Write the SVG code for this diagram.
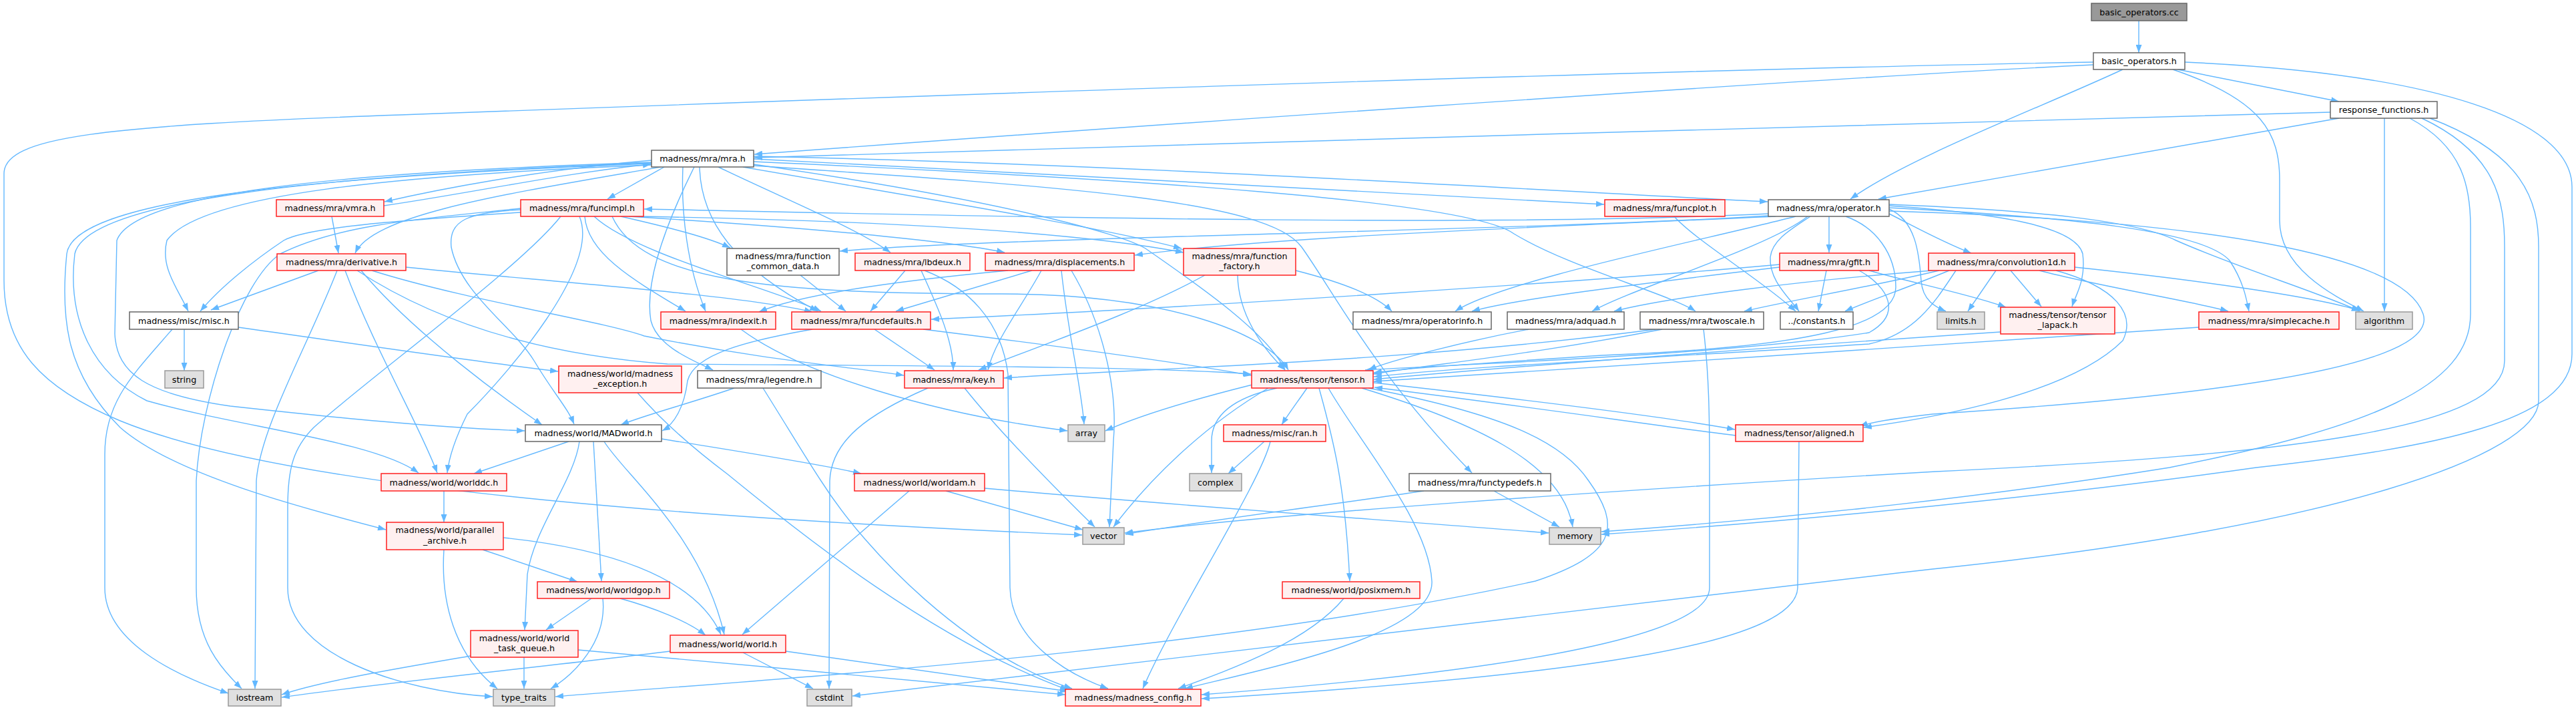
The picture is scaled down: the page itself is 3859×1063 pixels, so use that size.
<svg xmlns="http://www.w3.org/2000/svg" width="3859" height="1063" viewBox="0 0 3859 1063">
<defs>
<marker id="ah" viewBox="0 0 12 9" markerWidth="12" markerHeight="9" refX="12" refY="4.5" orient="auto" markerUnits="userSpaceOnUse"><path d="M0,0L12,4.5L0,9z" fill="#63b8ff"/></marker>
</defs>
<style>
.e{fill:none;stroke:#63b8ff;stroke-width:1.4;marker-end:url(#ah)}
rect{stroke-width:1.5}
.nw rect{fill:#ffffff;stroke:#666666}
.nr rect{fill:#fff0f0;stroke:#ff2020}
.ng rect{fill:#e0e0e0;stroke:#999999}
.nroot rect{fill:#999999;stroke:#666666}
text{font-family:"DejaVu Sans","Liberation Sans",sans-serif;font-size:12.7px;text-anchor:middle;fill:#000000}
</style>
<rect x="0" y="0" width="3859" height="1063" fill="#ffffff" stroke="none"/>
<g id="edges">
<path class="e" d="M3204,31 L3204,79"/>
<path class="e" d="M3136,97 C2700,118 1600,196 1130,231"/>
<path class="e" d="M3136,93 C2400,106 1200,150 600,172 C150,188 6,205 6,260 L6,420 C6,520 60,580 180,630 C400,720 900,770 1621,801"/>
<path class="e" d="M3180,104 C3060,160 2860,235 2772,298"/>
<path class="e" d="M3262,104 L3504,152"/>
<path class="e" d="M3255,104 C3390,150 3415,200 3415,270 L3415,330 C3415,400 3490,440 3541,466"/>
<path class="e" d="M3273,93 C3650,110 3853,180 3853,280 L3853,530 C3853,630 3650,670 3380,700 C3100,740 2700,780 2399,800"/>
<path class="e" d="M3491,168 C3000,180 1600,222 1130,236"/>
<path class="e" d="M3504,177 L2814,298"/>
<path class="e" d="M3572,177 L3572,466"/>
<path class="e" d="M3610,177 C3690,220 3701,280 3701,340 L3701,470 C3701,580 3550,640 3250,700 C3000,740 2700,775 2399,796"/>
<path class="e" d="M3628,177 C3740,230 3752,300 3752,370 L3752,540 C3752,640 3450,680 2900,706 C2400,735 1900,770 1685,798"/>
<path class="e" d="M3640,177 C3780,230 3803,300 3803,370 L3803,600 C3803,680 3500,790 2895,852 C2300,920 1700,990 1277,1042"/>
<path class="e" d="M976,240 C800,255 650,285 576,302"/>
<path class="e" d="M575,308 C700,290 850,258 975,246"/>
<path class="e" d="M995,250 L910,298"/>
<path class="e" d="M1129,238 C1600,262 2100,290 2403,306"/>
<path class="e" d="M1129,234 C1700,246 2300,285 2648,302"/>
<path class="e" d="M990,250 C760,290 560,320 532,379"/>
<path class="e" d="M976,247 C600,262 300,290 250,360 C240,400 265,430 282,466"/>
<path class="e" d="M1023,250 C1020,320 1030,400 1057,466"/>
<path class="e" d="M1048,250 C1050,330 1100,400 1225,466"/>
<path class="e" d="M1076,250 C1180,300 1280,340 1334,378"/>
<path class="e" d="M1113,250 C1400,300 1650,340 1770,372"/>
<path class="e" d="M1129,246 C1500,300 1680,350 1716,372 C1800,430 1900,500 1925,554"/>
<path class="e" d="M1040,250 C1000,330 965,420 975,480 C985,520 1040,540 1068,554"/>
<path class="e" d="M1129,242 C1700,268 2200,300 2268,350 C2350,400 2500,440 2540,466"/>
<path class="e" d="M976,243 C500,258 200,290 175,360 L172,500 C175,560 220,590 345,608 C500,625 650,640 786,645"/>
<path class="e" d="M976,245 C450,265 110,300 100,380 C90,480 100,560 180,640 C260,710 450,760 578,793"/>
<path class="e" d="M976,244 C480,262 130,300 112,380 C100,480 140,560 220,600 C360,640 560,660 627,708"/>
<path class="e" d="M1129,248 C1600,280 1900,300 1950,370 C2000,440 2060,560 2205,708"/>
<path class="e" d="M497,324 L507,379"/>
<path class="e" d="M780,318 C600,330 460,340 425,360 C380,390 330,430 300,466"/>
<path class="e" d="M780,312 C600,330 500,340 420,380 C360,420 300,600 294,720 L294,880 C294,960 330,1000 362,1031"/>
<path class="e" d="M840,324 C780,400 560,560 470,640 C440,670 431,700 431,760 L431,880 C431,980 600,1035 738,1043"/>
<path class="e" d="M780,314 C700,318 672,330 676,370 C690,440 770,490 800,540 C830,590 850,610 860,635"/>
<path class="e" d="M868,324 C900,400 760,560 700,620 C680,660 672,690 670,708"/>
<path class="e" d="M876,324 C880,380 950,420 1027,466"/>
<path class="e" d="M890,324 C950,380 1150,430 1230,466"/>
<path class="e" d="M917,324 C960,420 1150,440 1500,440 C1750,440 1900,500 1930,554"/>
<path class="e" d="M930,324 C1000,340 1060,355 1094,371"/>
<path class="e" d="M955,324 C1300,330 1600,345 1773,378"/>
<path class="e" d="M942,324 C1200,340 1420,360 1505,378"/>
<path class="e" d="M2649,320 C2200,342 1400,322 965,313"/>
<path class="e" d="M2649,323 C2300,345 1500,355 1258,376"/>
<path class="e" d="M2660,324 C2300,340 1900,355 1700,382"/>
<path class="e" d="M2690,324 C2550,360 2250,420 2180,466"/>
<path class="e" d="M2708,324 C2650,370 2450,430 2385,466"/>
<path class="e" d="M2740,324 L2740,378"/>
<path class="e" d="M2712,324 C2680,345 2655,360 2652,385 C2650,420 2680,445 2695,466"/>
<path class="e" d="M2765,324 C2810,340 2840,380 2840,430 C2840,490 2700,520 2400,532 C2200,545 2100,552 2058,558"/>
<path class="e" d="M2830,320 C2870,340 2905,360 2953,379"/>
<path class="e" d="M2830,313 C2870,330 2875,380 2878,420 C2880,450 2900,460 2915,466"/>
<path class="e" d="M2830,308 C3000,320 3110,340 3120,380 C3125,420 3110,440 3104,459"/>
<path class="e" d="M2830,311 C3100,325 3300,345 3340,390 C3360,420 3365,445 3369,466"/>
<path class="e" d="M2830,306 C3050,315 3200,330 3260,360 C3350,400 3480,440 3535,466"/>
<path class="e" d="M2830,316 C3300,330 3600,380 3630,470 C3660,560 3200,600 2895,620 C2850,625 2810,630 2786,638"/>
<path class="e" d="M2508,324 C2540,360 2640,420 2690,466"/>
<path class="e" d="M477,405 L316,464"/>
<path class="e" d="M505,405 C460,520 390,640 384,720 L382,1031"/>
<path class="e" d="M517,405 C560,520 630,640 655,708"/>
<path class="e" d="M541,405 C620,500 760,600 812,636"/>
<path class="e" d="M557,405 C700,450 900,480 965,503 C1150,540 1280,550 1354,562"/>
<path class="e" d="M608,400 C800,420 1100,440 1217,467"/>
<path class="e" d="M535,405 C650,480 800,530 1000,545 C1400,548 1700,548 1874,560"/>
<path class="e" d="M1199,412 L1267,466"/>
<path class="e" d="M1356,405 L1304,466"/>
<path class="e" d="M1380,405 C1405,460 1428,510 1428,554"/>
<path class="e" d="M1385,405 C1450,430 1500,480 1510,560 L1513,880 C1515,960 1600,1010 1660,1031"/>
<path class="e" d="M1546,405 L1342,466"/>
<path class="e" d="M1560,405 C1530,460 1490,510 1480,554"/>
<path class="e" d="M1510,405 C1350,420 1200,440 1137,467"/>
<path class="e" d="M1590,405 C1600,500 1620,580 1624,635"/>
<path class="e" d="M1605,405 C1650,480 1675,580 1668,660 L1662,789"/>
<path class="e" d="M1805,412 C1700,470 1550,520 1466,554"/>
<path class="e" d="M1854,412 C1855,470 1890,520 1925,554"/>
<path class="e" d="M1941,405 C2000,420 2060,440 2085,466"/>
<path class="e" d="M2736,405 L2724,466"/>
<path class="e" d="M2785,405 C2830,430 2850,470 2800,498 C2600,530 2200,545 2045,554"/>
<path class="e" d="M2666,400 C2500,420 2280,445 2205,466"/>
<path class="e" d="M2666,396 C2400,420 1800,460 1395,478"/>
<path class="e" d="M2800,405 C2850,420 2950,440 3005,460"/>
<path class="e" d="M2895,405 C2700,420 2500,445 2418,466"/>
<path class="e" d="M2905,405 C2800,430 2680,450 2613,466"/>
<path class="e" d="M2920,405 C2860,430 2800,450 2764,466"/>
<path class="e" d="M2990,405 L2948,466"/>
<path class="e" d="M3012,405 L3058,459"/>
<path class="e" d="M3055,405 C3150,430 3280,450 3338,466"/>
<path class="e" d="M3108,400 C3300,420 3470,445 3535,465"/>
<path class="e" d="M3080,405 C3170,430 3200,470 3180,510 C3100,590 2900,625 2792,640"/>
<path class="e" d="M2930,405 C2900,450 2870,500 2800,515 C2500,535 2200,548 2058,564"/>
<path class="e" d="M276,493 L276,555"/>
<path class="e" d="M357,490 C500,510 700,540 836,556"/>
<path class="e" d="M258,493 C200,560 157,600 157,680 L157,880 C157,960 260,1010 342,1038"/>
<path class="e" d="M1110,493 C1200,560 1400,620 1599,645"/>
<path class="e" d="M1310,493 L1400,554"/>
<path class="e" d="M1383,493 C1600,520 1780,545 1875,562"/>
<path class="e" d="M1217,493 C1120,510 1040,530 1030,570 C1025,610 1010,635 992,645"/>
<path class="e" d="M2290,493 C2200,510 2080,540 2050,554"/>
<path class="e" d="M2490,493 C2300,530 2150,545 2057,560"/>
<path class="e" d="M2480,493 C2200,530 1900,545 1700,555 C1600,560 1540,563 1504,566"/>
<path class="e" d="M2552,493 C2560,560 2561,620 2561,700 L2561,880 C2561,960 2200,1010 1800,1040"/>
<path class="e" d="M2997,497 C2800,510 2300,545 2058,568"/>
<path class="e" d="M3294,490 C3000,510 2400,550 2058,571"/>
<path class="e" d="M955,588 C1000,640 1050,680 1090,710 C1200,800 1400,960 1600,1033"/>
<path class="e" d="M1100,581 C1030,605 970,620 930,636"/>
<path class="e" d="M1143,581 C1180,640 1210,690 1230,720 C1300,830 1450,980 1606,1031"/>
<path class="e" d="M1390,581 C1300,620 1245,660 1243,720 L1242,1031"/>
<path class="e" d="M1445,581 C1500,650 1590,740 1640,789"/>
<path class="e" d="M1958,581 C1945,600 1930,620 1920,636"/>
<path class="e" d="M1976,581 C1995,650 2015,720 2022,870"/>
<path class="e" d="M1990,581 C2035,660 2140,780 2145,870 C2150,950 1900,1000 1775,1031"/>
<path class="e" d="M2050,581 C2250,620 2340,660 2380,720 C2430,790 2420,830 2300,870 C1800,980 1100,1020 832,1043"/>
<path class="e" d="M2040,581 C2200,630 2340,690 2356,789"/>
<path class="e" d="M1900,581 C1800,640 1720,720 1668,789"/>
<path class="e" d="M1913,581 C1850,595 1815,620 1815,660 L1815,708"/>
<path class="e" d="M1876,576 C1780,600 1700,625 1656,645"/>
<path class="e" d="M2058,573 C2300,600 2500,625 2599,643"/>
<path class="e" d="M2600,652 C2500,640 2300,610 2059,580"/>
<path class="e" d="M1894,661 L1840,709"/>
<path class="e" d="M1903,661 C1890,720 1760,920 1712,1031"/>
<path class="e" d="M2695,661 L2693,880 C2690,960 2400,1010 1800,1046"/>
<path class="e" d="M852,661 L710,709"/>
<path class="e" d="M868,661 C860,720 800,790 790,860 L786,943"/>
<path class="e" d="M889,661 L901,870"/>
<path class="e" d="M905,661 C935,710 1050,800 1085,950"/>
<path class="e" d="M991,657 C1100,675 1230,695 1290,709"/>
<path class="e" d="M665,735 L665,782"/>
<path class="e" d="M723,823 L865,871"/>
<path class="e" d="M665,823 C660,900 680,980 745,1031"/>
<path class="e" d="M754,805 C900,820 1040,860 1080,950"/>
<path class="e" d="M886,896 L818,943"/>
<path class="e" d="M903,896 C910,960 860,1010 825,1031"/>
<path class="e" d="M929,896 C980,910 1030,930 1057,951"/>
<path class="e" d="M705,982 C600,1000 480,1020 422,1040"/>
<path class="e" d="M785,984 L785,1031"/>
<path class="e" d="M866,973 C1100,995 1400,1020 1596,1040"/>
<path class="e" d="M1004,975 C800,1000 550,1025 422,1044"/>
<path class="e" d="M1113,977 L1218,1031"/>
<path class="e" d="M1177,975 C1350,1000 1500,1020 1600,1035"/>
<path class="e" d="M1362,735 L1112,950"/>
<path class="e" d="M1417,735 L1622,793"/>
<path class="e" d="M1475,731 C1800,760 2100,780 2320,798"/>
<path class="e" d="M2133,735 C2000,755 1800,780 1686,800"/>
<path class="e" d="M2238,735 L2336,789"/>
<path class="e" d="M2013,896 C1960,960 1850,1000 1765,1031"/>
</g>
<g id="n_cc" class="nroot"><rect x="3133" y="5" width="143" height="26"/><text x="3204.5" y="22.5">basic_operators.cc</text></g>
<g id="n_boh" class="nw"><rect x="3136" y="79" width="137" height="25"/><text x="3204.5" y="96">basic_operators.h</text></g>
<g id="n_rf" class="nw"><rect x="3491" y="152" width="160" height="25"/><text x="3571" y="169">response_functions.h</text></g>
<g id="n_mra" class="nw"><rect x="976" y="225" width="153" height="25"/><text x="1052.5" y="242">madness/mra/mra.h</text></g>
<g id="n_vmra" class="nr"><rect x="414" y="299" width="161" height="25"/><text x="494.5" y="316">madness/mra/vmra.h</text></g>
<g id="n_funcimpl" class="nr"><rect x="780" y="299" width="184" height="25"/><text x="872" y="316">madness/mra/funcimpl.h</text></g>
<g id="n_funcplot" class="nr"><rect x="2404" y="299" width="180" height="25"/><text x="2494" y="316">madness/mra/funcplot.h</text></g>
<g id="n_operator" class="nw"><rect x="2649" y="299" width="181" height="25"/><text x="2739.5" y="316">madness/mra/operator.h</text></g>
<g id="n_deriv" class="nr"><rect x="415" y="380" width="193" height="25"/><text x="511.5" y="397">madness/mra/derivative.h</text></g>
<g id="n_fcd" class="nw"><rect x="1089" y="372" width="168" height="40"/><text x="1173" y="388">madness/mra/function</text><text x="1173" y="403">_common_data.h</text></g>
<g id="n_lbdeux" class="nr"><rect x="1281" y="379" width="172" height="26"/><text x="1367" y="396.5">madness/mra/lbdeux.h</text></g>
<g id="n_disp" class="nr"><rect x="1476" y="379" width="223" height="26"/><text x="1587.5" y="396.5">madness/mra/displacements.h</text></g>
<g id="n_ff" class="nr"><rect x="1773" y="372" width="168" height="40"/><text x="1857" y="388">madness/mra/function</text><text x="1857" y="403">_factory.h</text></g>
<g id="n_gfit" class="nr"><rect x="2666" y="379" width="148" height="26"/><text x="2740" y="396.5">madness/mra/gfit.h</text></g>
<g id="n_conv" class="nr"><rect x="2889" y="379" width="219" height="26"/><text x="2998.5" y="396.5">madness/mra/convolution1d.h</text></g>
<g id="n_misc" class="nw"><rect x="194" y="467" width="163" height="26"/><text x="275.5" y="484.5">madness/misc/misc.h</text></g>
<g id="n_indexit" class="nr"><rect x="990" y="467" width="172" height="26"/><text x="1076" y="484.5">madness/mra/indexit.h</text></g>
<g id="n_funcdef" class="nr"><rect x="1186" y="467" width="208" height="26"/><text x="1290" y="484.5">madness/mra/funcdefaults.h</text></g>
<g id="n_opinfo" class="nw"><rect x="2027" y="467" width="207" height="26"/><text x="2130.5" y="484.5">madness/mra/operatorinfo.h</text></g>
<g id="n_adquad" class="nw"><rect x="2258" y="467" width="175" height="26"/><text x="2345.5" y="484.5">madness/mra/adquad.h</text></g>
<g id="n_twoscale" class="nw"><rect x="2457" y="467" width="185" height="26"/><text x="2549.5" y="484.5">madness/mra/twoscale.h</text></g>
<g id="n_constants" class="nw"><rect x="2667" y="467" width="109" height="26"/><text x="2721.5" y="484.5">../constants.h</text></g>
<g id="n_limits" class="ng"><rect x="2902" y="467" width="71" height="26"/><text x="2937.5" y="484.5">limits.h</text></g>
<g id="n_lapack" class="nr"><rect x="2997" y="460" width="171" height="40"/><text x="3082.5" y="476">madness/tensor/tensor</text><text x="3082.5" y="491">_lapack.h</text></g>
<g id="n_simplecache" class="nr"><rect x="3294" y="467" width="210" height="26"/><text x="3399" y="484.5">madness/mra/simplecache.h</text></g>
<g id="n_algorithm" class="ng"><rect x="3529" y="467" width="85" height="26"/><text x="3571.5" y="484.5">algorithm</text></g>
<g id="n_string" class="ng"><rect x="247" y="555" width="58" height="26"/><text x="276" y="572.5">string</text></g>
<g id="n_madexc" class="nr"><rect x="837" y="548" width="184" height="40"/><text x="929" y="564">madness/world/madness</text><text x="929" y="579">_exception.h</text></g>
<g id="n_legendre" class="nw"><rect x="1045" y="555" width="185" height="26"/><text x="1137.5" y="572.5">madness/mra/legendre.h</text></g>
<g id="n_key" class="nr"><rect x="1355" y="555" width="148" height="26"/><text x="1429" y="572.5">madness/mra/key.h</text></g>
<g id="n_tensor" class="nr"><rect x="1875" y="555" width="182" height="26"/><text x="1966" y="572.5">madness/tensor/tensor.h</text></g>
<g id="n_MADworld" class="nw"><rect x="787" y="636" width="204" height="25"/><text x="889" y="653">madness/world/MADworld.h</text></g>
<g id="n_array" class="ng"><rect x="1600" y="636" width="55" height="25"/><text x="1627.5" y="653">array</text></g>
<g id="n_ran" class="nr"><rect x="1833" y="636" width="153" height="25"/><text x="1909.5" y="653">madness/misc/ran.h</text></g>
<g id="n_aligned" class="nr"><rect x="2600" y="636" width="191" height="25"/><text x="2695.5" y="653">madness/tensor/aligned.h</text></g>
<g id="n_worlddc" class="nr"><rect x="571" y="709" width="188" height="26"/><text x="665" y="726.5">madness/world/worlddc.h</text></g>
<g id="n_worldam" class="nr"><rect x="1280" y="709" width="195" height="26"/><text x="1377.5" y="726.5">madness/world/worldam.h</text></g>
<g id="n_complex" class="ng"><rect x="1782" y="709" width="78" height="26"/><text x="1821" y="726.5">complex</text></g>
<g id="n_functypedefs" class="nw"><rect x="2111" y="709" width="212" height="26"/><text x="2217" y="726.5">madness/mra/functypedefs.h</text></g>
<g id="n_parallel" class="nr"><rect x="579" y="782" width="175" height="41"/><text x="666.5" y="798">madness/world/parallel</text><text x="666.5" y="814">_archive.h</text></g>
<g id="n_vector" class="ng"><rect x="1622" y="790" width="62" height="25"/><text x="1653" y="807">vector</text></g>
<g id="n_memory" class="ng"><rect x="2321" y="790" width="77" height="25"/><text x="2359.5" y="807">memory</text></g>
<g id="n_worldgop" class="nr"><rect x="805" y="871" width="198" height="25"/><text x="904" y="888">madness/world/worldgop.h</text></g>
<g id="n_posixmem" class="nr"><rect x="1921" y="871" width="206" height="25"/><text x="2024" y="888">madness/world/posixmem.h</text></g>
<g id="n_wtq" class="nr"><rect x="705" y="944" width="161" height="40"/><text x="785.5" y="960">madness/world/world</text><text x="785.5" y="975">_task_queue.h</text></g>
<g id="n_world" class="nr"><rect x="1004" y="951" width="173" height="26"/><text x="1090.5" y="968.5">madness/world/world.h</text></g>
<g id="n_iostream" class="ng"><rect x="342" y="1032" width="79" height="25"/><text x="381.5" y="1049">iostream</text></g>
<g id="n_type_traits" class="ng"><rect x="739" y="1032" width="92" height="25"/><text x="785" y="1049">type_traits</text></g>
<g id="n_cstdint" class="ng"><rect x="1209" y="1032" width="67" height="25"/><text x="1242.5" y="1049">cstdint</text></g>
<g id="n_config" class="nr"><rect x="1596" y="1032" width="203" height="25"/><text x="1697.5" y="1049">madness/madness_config.h</text></g>
</svg>
